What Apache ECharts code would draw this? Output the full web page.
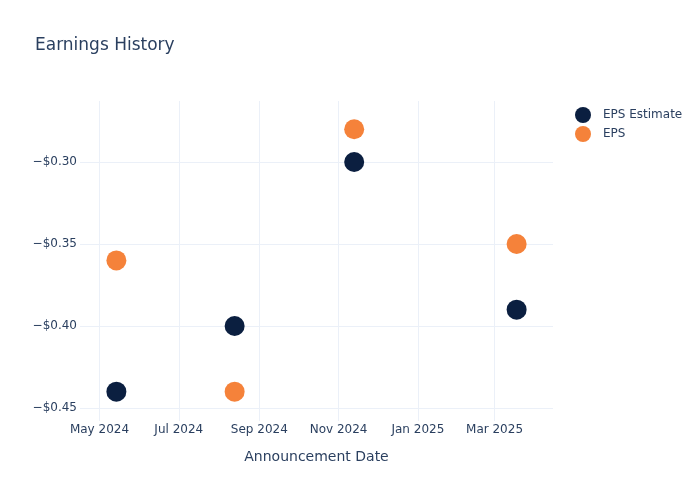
<!DOCTYPE html>
<html>
<head>
<meta charset="utf-8">
<script src="https://cdn.jsdelivr.net/npm/echarts@6/dist/echarts.min.js"></script>
<style>html,body{margin:0;padding:0;background:#fff}#c{width:700px;height:500px}</style>
</head>
<body>
<div id="c"></div>
<script>
const dates = ['2024-05-14', '2024-08-13', '2024-11-13', '2025-03-18'];
const epsEstimate = [-0.44, -0.40, -0.30, -0.39];
const eps = [-0.36, -0.44, -0.28, -0.35];
const yTicks = [-0.45, -0.40, -0.35, -0.30];
const xTickDates = ['2024-05-01', '2024-07-01', '2024-09-01', '2024-11-01', '2025-01-01', '2025-03-01'];
const monthNames = ['Jan','Feb','Mar','Apr','May','Jun','Jul','Aug','Sep','Oct','Nov','Dec'];

const font = '"DejaVu Sans", sans-serif';
const txt = '#2a3f5f';
const gridColor = '#ebf0f8';
const ts = d => new Date(d + 'T00:00:00').getTime();
const xTicks = xTickDates.map(ts);

const chart = echarts.init(document.getElementById('c'));
chart.setOption({
  backgroundColor: '#fff',
  animation: false,
  title: {
    text: 'Earnings History',
    left: 30, top: 32,
    textStyle: { fontFamily: font, fontSize: 17, fontWeight: 'normal', color: txt }
  },
  legend: {
    orient: 'vertical',
    left: 570, top: 102,
    itemWidth: 30, itemHeight: 16, itemGap: 3,
    icon: 'circle',
    textStyle: { fontFamily: font, fontSize: 12, color: txt }
  },
  grid: { left: 80, right: 147, top: 101, bottom: 79 },
  xAxis: {
    type: 'value',
    min: ts('2024-04-16'),
    max: ts('2025-04-15'),
    name: 'Announcement Date',
    nameLocation: 'middle',
    nameGap: 29,
    nameTextStyle: { fontFamily: font, fontSize: 14, color: txt },
    axisLine: { show: false },
    axisTick: { show: false, customValues: xTicks },
    splitLine: { show: true, lineStyle: { color: gridColor, width: 1 } },
    axisLabel: {
      customValues: xTicks,
      fontFamily: font, fontSize: 12, color: txt, margin: 3,
      formatter: function (v) { const d = new Date(v); return monthNames[d.getMonth()] + ' ' + d.getFullYear(); }
    }
  },
  yAxis: {
    type: 'value',
    min: -0.4579, max: -0.2628,
    axisLine: { show: false },
    axisTick: { show: false, customValues: yTicks },
    splitLine: { show: true, lineStyle: { color: gridColor, width: 1 } },
    axisLabel: {
      customValues: yTicks,
      fontFamily: font, fontSize: 12, color: txt, margin: 3,
      formatter: function (v) { return '\u2212$' + Math.abs(v).toFixed(2); }
    }
  },
  series: [
    {
      name: 'EPS Estimate', type: 'scatter', symbolSize: 20,
      itemStyle: { color: '#0b1f40', opacity: 1 },
      data: dates.map((d, i) => [ts(d), epsEstimate[i]])
    },
    {
      name: 'EPS', type: 'scatter', symbolSize: 20,
      itemStyle: { color: '#f5823a', opacity: 1 },
      data: dates.map((d, i) => [ts(d), eps[i]])
    }
  ]
});
</script>
</body>
</html>
